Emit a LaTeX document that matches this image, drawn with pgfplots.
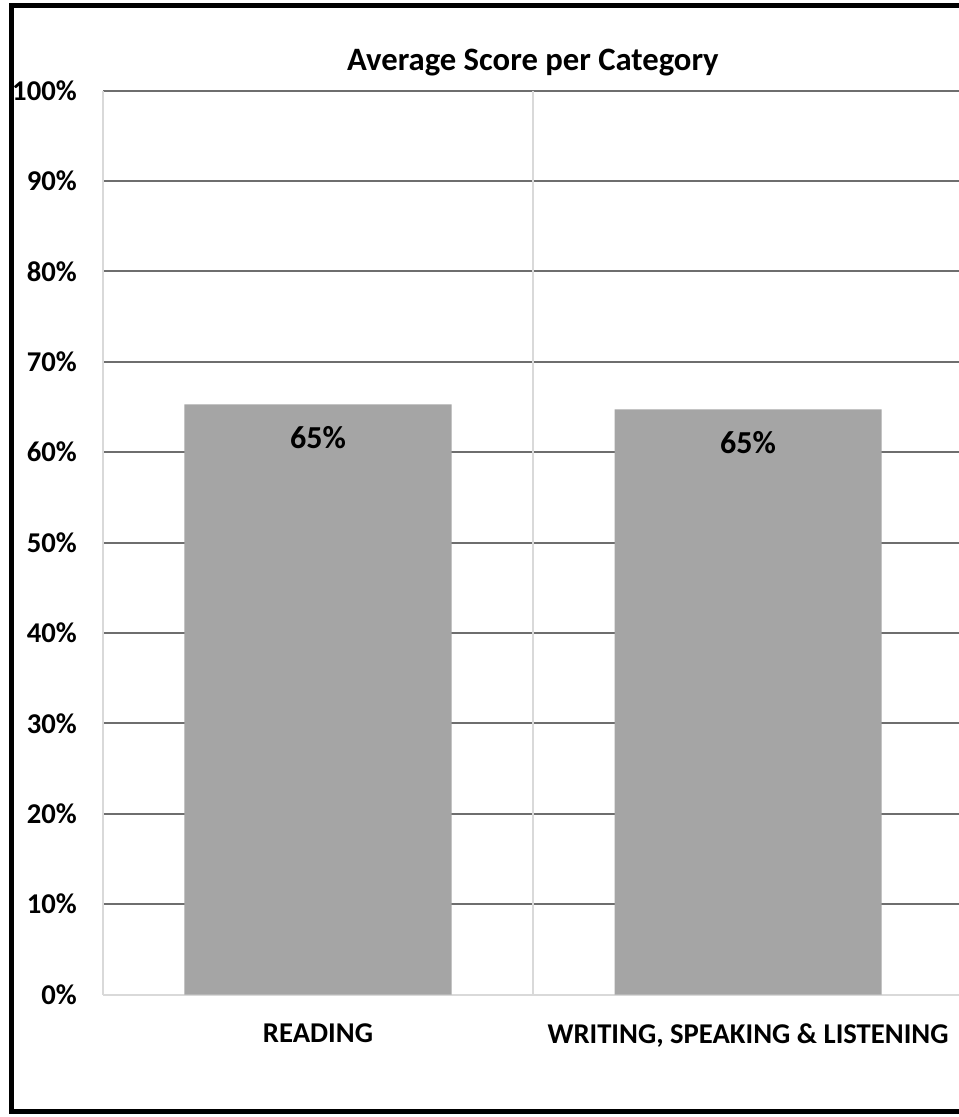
\documentclass[border=0pt]{standalone}
\usepackage{pgfplots}
\pgfplotsset{compat=1.18}
\usepackage{fontspec}
\setmainfont{Carlito}

\definecolor{barfill}{HTML}{A5A5A5}
\definecolor{gridcol}{HTML}{6E6E6E}
\definecolor{axiscol}{HTML}{D9D9D9}

% 1px of the reference = 0.75pt
\begin{document}
\begin{tikzpicture}
\path[use as bounding box, clip] (0,0) rectangle (719.25pt,837.75pt);
% outer chart frame (right edge falls outside the picture)
\draw[black, line width=3.75pt] (8.25pt,3.75pt) rectangle (760pt,833.25pt);

\begin{axis}[
    at={(77.25pt,91.8pt)}, anchor=south west,
    scale only axis,
    width=645pt, height=678pt,
    xmin=-0.5, xmax=1.5,
    ymin=0, ymax=100,
    axis x line=bottom, axis y line=left,
    axis line style={draw=axiscol, line width=1.5pt, -},
    major tick length=0pt,
    font=\bfseries\fontsize{21.5}{24}\selectfont,
    /pgf/number format/assume math mode=true,
    title={Average Score per Category},
    title style={at={(0.5,1)}, anchor=base, yshift=9.3pt,
        font=\bfseries\fontsize{24.5}{28}\selectfont},
    xtick=data,
    xticklabels={READING, {WRITING, SPEAKING \& LISTENING}},
    xticklabel style={inner sep=0pt, anchor=north, yshift=-21.75pt},
    ytick={10,20,...,100},
    yticklabels={10\%,20\%,30\%,40\%,50\%,60\%,70\%,80\%,90\%,100\%},
    yticklabel style={inner sep=0pt, anchor=east, xshift=-19.5pt},
    extra y ticks={0},
    extra y tick labels={0\%},
    extra y tick style={grid=none},
    extra x ticks={0.5},
    extra x tick labels={},
    extra x tick style={grid=major, major grid style={draw=axiscol, line width=1.5pt}},
    ymajorgrids,
    major grid style={draw=gridcol, line width=1.5pt},
    ybar, bar width=200.25pt,
    nodes near coords={\pgfmathprintnumber[fixed,precision=0]{\pgfplotspointmeta}\%},
    nodes near coords style={anchor=center, yshift=-24.75pt, black,
        font=\bfseries\fontsize{24}{28}\selectfont},
]
\addplot[fill=barfill, draw=none] coordinates {(0,65.3) (1,64.75)};
\end{axis}
\end{tikzpicture}
\end{document}
